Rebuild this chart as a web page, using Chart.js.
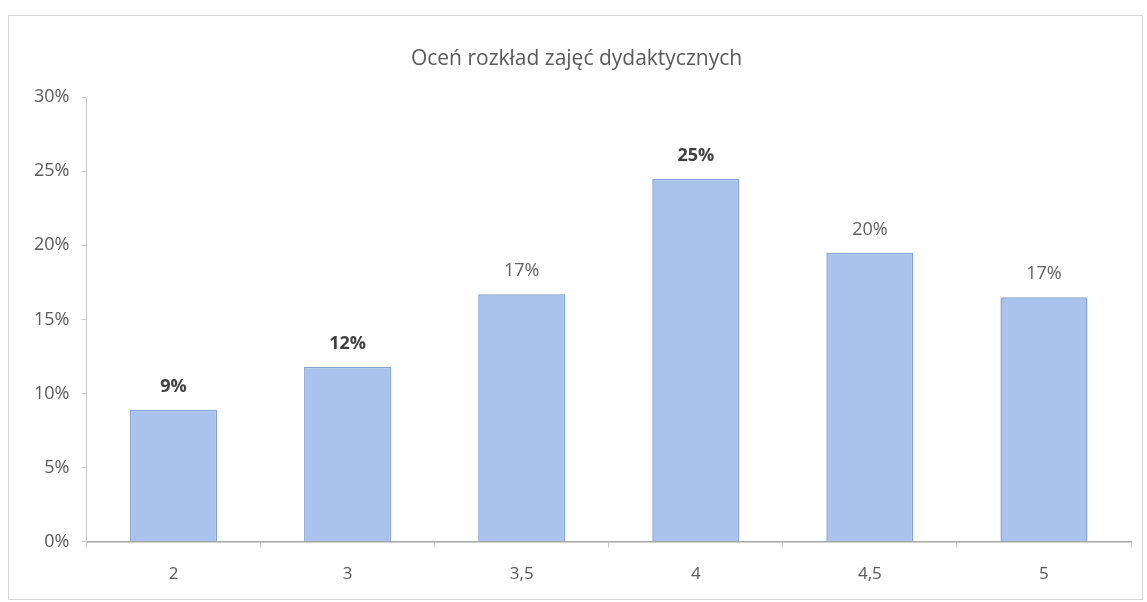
<!DOCTYPE html>
<html>
<head>
<meta charset="utf-8">
<script src="https://cdn.jsdelivr.net/npm/chart.js@4"></script>
<style>
    html, body { margin: 0; padding: 0; background: #fff; }
    #wrap { position: relative; width: 1147px; height: 602px; }
    #frame { position: absolute; left: 8px; top: 15px; right: 4px; bottom: 2px; border: 1px solid #d6d6d6; pointer-events: none; }
</style>
</head>
<body>
<div id="wrap">
    <div id="frame"></div>
    <canvas id="ratingChart"></canvas>
</div>
<script>
// Values (percent)
const categories = ['2', '3', '3,5', '4', '4,5', '5'];
const shares = [8.9, 11.8, 16.7, 24.5, 19.5, 16.5];
const boldLabels = [true, true, false, true, false, false];
const yTicks = [0, 5, 10, 15, 20, 25, 30];

// Draws the value above each bar
const barValueLabels = {
    id: 'barValueLabels',
    afterDatasetsDraw(chart) {
        const ctx = chart.ctx;
        const meta = chart.getDatasetMeta(0);
        ctx.save();
        ctx.textAlign = 'center';
        ctx.textBaseline = 'bottom';
        meta.data.forEach((bar, i) => {
            ctx.font = (boldLabels[i] ? 'bold ' : '') + '18px "Open Sans", sans-serif';
            ctx.fillStyle = boldLabels[i] ? '#404040' : '#5f5f5f';
            ctx.fillText(Math.round(shares[i]) + '%', bar.x, bar.y - 14);
        });
        ctx.restore();
    }
};

const ctx = document.getElementById('ratingChart').getContext('2d');
new Chart(ctx, {
    type: 'bar',
    data: {
        labels: categories,
        datasets: [{
            data: shares,
            backgroundColor: '#a9c3ec',
            borderColor: '#86a3d6',
            borderWidth: 1.5,
            barPercentage: 0.5,
            categoryPercentage: 1
        }]
    },
    options: {
        responsive: true,
        maintainAspectRatio: false,
        animation: false,
        layout: {
            padding: { left: 22, right: 16, top: 46, bottom: 2 }
        },
        plugins: {
            legend: { display: false },
            tooltip: { enabled: false },
            title: {
                display: true,
                text: 'Oceń rozkład zajęć dydaktycznych',
                color: '#595959',
                font: { family: '"Open Sans", sans-serif', size: 21, weight: 'normal' },
                padding: { top: 0, bottom: 26 }
            }
        },
        scales: {
            x: {
                grid: {
                    offset: true,
                    drawOnChartArea: false,
                    tickLength: 6,
                    color: '#c8c8c8'
                },
                border: { color: '#a6a6a6', width: 1.5 },
                ticks: {
                    color: '#595959',
                    font: { family: '"Open Sans", sans-serif', size: 17 },
                    padding: 16
                }
            },
            y: {
                min: 0,
                max: 30,
                afterBuildTicks: axis => {
                    axis.ticks = yTicks.map(v => ({ value: v }));
                },
                grid: {
                    drawOnChartArea: false,
                    tickLength: 5,
                    color: '#c8c8c8'
                },
                border: { color: '#c8c8c8', width: 1 },
                ticks: {
                    color: '#595959',
                    font: { family: '"Open Sans", sans-serif', size: 18 },
                    padding: 12,
                    callback: value => value + '%'
                }
            }
        }
    },
    plugins: [barValueLabels]
});
</script>
</body>
</html>
